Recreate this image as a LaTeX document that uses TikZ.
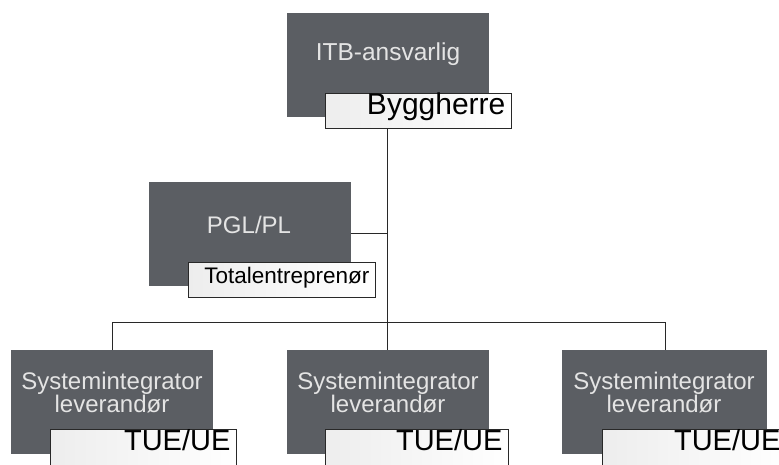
\documentclass[tikz,border=0pt]{standalone}
\usepackage{fontspec}
\setmainfont{Liberation Sans}
\definecolor{boxgray}{RGB}{91,94,99}
\definecolor{boxtext}{RGB}{228,228,228}
\definecolor{linecol}{RGB}{40,40,40}
\tikzset{
  darkbox/.style={fill=boxgray, draw=none, minimum width=202pt, minimum height=104pt, inner sep=0pt, anchor=north west},
  darktext/.style={text=boxtext, inner sep=0pt, align=center, font=\fontsize{24}{22}\selectfont, text height=.716em, text depth=0pt},
  rolebox/.style={draw=linecol, line width=0.8pt, left color=black!7, right color=white, minimum width=#1, minimum height=35pt, text width=#1-12pt, inner xsep=6pt, inner ysep=0pt, align=right, anchor=north west, text height=.716em, text depth=0pt},
  lowbox/.style={minimum height=40pt, text depth=5pt},
  conn/.style={draw=linecol, line width=1pt}
}
\begin{document}
\begin{tikzpicture}[x=1pt,y=-1pt]
\useasboundingbox (0,0) rectangle (779,464);
\clip (0,0) rectangle (779,464);
% top
\node[darkbox] (itb) at (287,13) {};
\node[darktext, font=\fontsize{24.5}{22}\selectfont] (itbt) at (388,56.5) {ITB-ansvarlig};
\node[rolebox=186pt, font=\fontsize{30}{30}\selectfont] (bygg) at (325,93) {Byggherre};
% middle
\node[darkbox] (pgl) at (149,182) {};
\node[darktext] (pglt) at (249,229.5) {PGL/PL};
\node[rolebox=187pt, font=\fontsize{22.5}{22}\selectfont] (tot) at (188,262) {Totalentrepren\o r};
% bottom
\node[darkbox] (s1) at (11,350) {};
\node[darktext] (s1t) at (112,409) {Systemintegrator\\leverand\o r};
\node[rolebox=186pt, lowbox, font=\fontsize{29}{30}\selectfont] (t1) at (50,429) {TUE/UE};
\node[darkbox] (s2) at (287,350) {};
\node[darktext] (s2t) at (388,409) {Systemintegrator\\leverand\o r};
\node[rolebox=183pt, lowbox, font=\fontsize{29}{30}\selectfont] (t2) at (325,429) {TUE/UE};
\node[darkbox, minimum width=205pt] (s3) at (562,350) {};
\node[darktext] (s3t) at (664,409) {Systemintegrator\\leverand\o r};
\node[rolebox=184pt, lowbox, font=\fontsize{29}{30}\selectfont] (t3) at (602,429) {TUE/UE};
% connectors
\coordinate (bus) at (387,322);
\coordinate (pj) at (387,233);
\draw[conn] (bygg.south -| bus) -- (s2.north -| bus);
\draw[conn] (pgl.east |- pj) -- (pj);
\draw[conn] (s1.north -| 112,0) -- (112,322) -- (665,322) -- (s3.north -| 665,0);
\end{tikzpicture}
\end{document}
